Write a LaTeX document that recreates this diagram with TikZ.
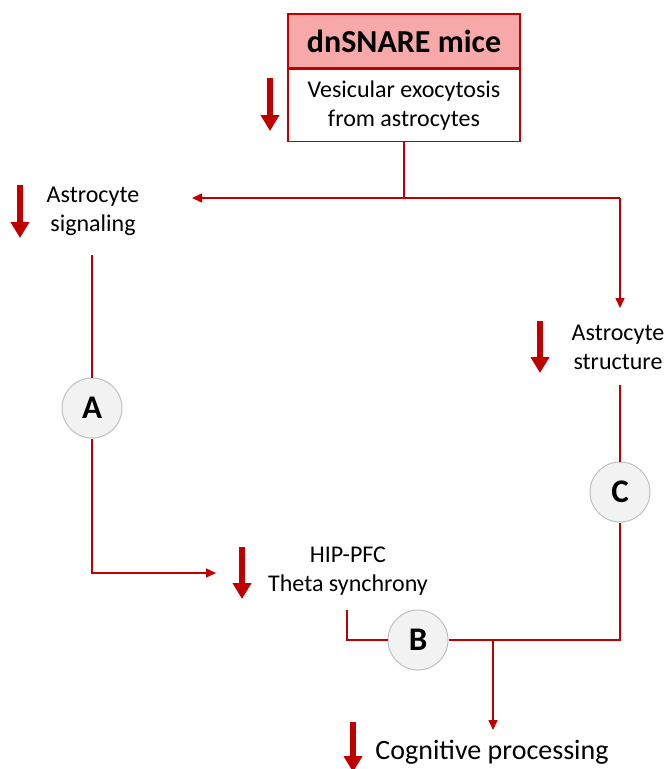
\documentclass[tikz,border=0pt]{standalone}
\usepackage{fontspec}
\setmainfont{Carlito}
\usetikzlibrary{arrows.meta}

\definecolor{darkred}{HTML}{C00000}
\definecolor{pinkfill}{HTML}{F7A8A8}
\definecolor{circfill}{HTML}{F2F2F2}
\definecolor{circline}{HTML}{BFBFBF}

\tikzset{
  link/.style={darkred, line width=1.5pt},
  linkarrow/.style={link, -{Triangle[length=10pt,width=9pt]}},
  downmark/.style={darkred, line width=6pt, -{Triangle[length=16pt,width=18pt]}},
  txt/.style={font=\fontsize{24}{29}\selectfont, align=center, inner sep=0pt},
  stage/.style={circle, draw=circline, fill=circfill, line width=1pt,
    minimum size=60pt, inner sep=0pt, font=\fontsize{33}{33}\selectfont\bfseries},
  boxpart/.style={draw=darkred, line width=1.5pt, minimum width=232pt, align=center},
}

\begin{document}
\begin{tikzpicture}[x=1pt, y=-1pt]
    \useasboundingbox (0,0) rectangle (666,769);

    % Coordinates
    \coordinate (Split) at (404,198);
    \coordinate (SigIn) at (192,198);
    \coordinate (Corner) at (620,198);
    \coordinate (StrIn) at (620,308);
    \coordinate (SigOut) at (92,255);
    \coordinate (HipIn) at (216,573);
    \coordinate (HipOut) at (347,610);
    \coordinate (StrOut) at (620,385);
    \coordinate (Join) at (493,640);
    \coordinate (CogIn) at (493,730);

    % Boxes and labels
    \node[boxpart, fill=pinkfill, minimum height=54pt,
      font=\fontsize{32}{32}\selectfont\bfseries] (mice) at (404,41) {dnSNARE mice};
    \node[boxpart, fill=white, minimum height=72pt, anchor=north, txt]
      (exo) at (mice.south) {Vesicular exocytosis\\from astrocytes};
    \node[txt] (sig) at (93,211) {Astrocyte\\signaling};
    \node[txt] (str) at (618,347) {Astrocyte\\structure};
    \node[txt] (hip) at (348,571) {HIP-PFC\\Theta synchrony};
    \node[txt, font=\fontsize{28}{30}\selectfont] (cog) at (492,752) {Cognitive processing};

    \node[stage] (A) at (92,408) {A};
    \node[stage] (B) at (418,640) {B};
    \node[stage] (C) at (620,492) {C};

    % Drawing
    \draw[link] (exo.south) -- (Split);
    \draw[linkarrow] (Corner) -- (SigIn);
    \draw[linkarrow] (Corner) -- (StrIn);
    \draw[link] (SigOut) -- (A);
    \draw[linkarrow] (A) |- (HipIn);
    \draw[link] (HipOut) |- (B);
    \draw[link] (B) -| (C);
    \draw[link] (C) -- (StrOut);
    \draw[linkarrow] (Join) -- (CogIn);

    % Decrease markers
    \draw[downmark] (270,78) -- (270,131);
    \draw[downmark] (20,185) -- (20,238);
    \draw[downmark] (540,321) -- (540,373);
    \draw[downmark] (242,547) -- (242,599);
    \draw[downmark] (353,722) -- (353,772);
\end{tikzpicture}
\end{document}
